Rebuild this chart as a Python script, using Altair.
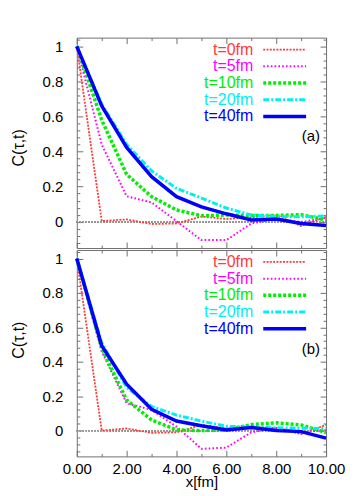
import altair as alt
import pandas as pd

# ---------------- data ----------------
X = [0, 1, 2, 3, 4, 5, 6, 7, 8, 9, 10]
SERIES = ["t=0fm", "t=5fm", "t=10fm", "t=20fm", "t=40fm"]

A_T0 = [1.0, 0.004, 0.013, -0.013, -0.010, 0.030, 0.015, 0.025, 0.038, -0.024, 0.028]
A_T5 = [1.0, 0.44, 0.145, 0.11, 0.003, -0.105, -0.105, -0.010, 0.018, -0.002, 0.022]
A_T10 = [1.0, 0.58, 0.27, 0.143, 0.067, 0.034, 0.038, 0.035, 0.036, 0.040, 0.010]
A_T20 = [1.0, 0.67, 0.44, 0.29, 0.19, 0.135, 0.078, 0.038, 0.030, 0.028, 0.033]
A_T40 = [1.0, 0.66, 0.424, 0.257, 0.143, 0.085, 0.045, 0.010, 0.015, -0.010, -0.022]

B_T0 = [1.0, 0.0, 0.012, -0.013, -0.010, 0.033, 0.014, 0.023, 0.014, -0.020, 0.033]
B_T5 = [1.0, 0.46, 0.159, 0.12, 0.023, -0.106, -0.099, -0.010, 0.015, -0.012, 0.004]
B_T10 = [1.0, 0.478, 0.178, 0.062, 0.004, 0.0, 0.004, 0.035, 0.045, 0.033, -0.012]
B_T20 = [1.0, 0.51, 0.25, 0.14, 0.09, 0.055, 0.025, 0.020, 0.016, 0.014, 0.012]
B_T40 = [1.0, 0.493, 0.27, 0.124, 0.056, 0.028, 0.004, 0.018, 0.0, -0.006, -0.044]

PANEL_A = [A_T0, A_T5, A_T10, A_T20, A_T40]
PANEL_B = [B_T0, B_T5, B_T10, B_T20, B_T40]
PANEL_TAGS = ["(a)", "(b)"]

X_MAJOR = [0, 2, 4, 6, 8, 10]
X_MINOR = [1, 3, 5, 7, 9]
Y_MAJOR = [0, 0.2, 0.4, 0.6, 0.8, 1.0]
Y_MINOR = [-0.12, -0.08, -0.04, 0.04, 0.08, 0.12, 0.16, 0.24, 0.28, 0.32, 0.36,
           0.44, 0.48, 0.52, 0.56, 0.64, 0.68, 0.72, 0.76, 0.84, 0.88, 0.92,
           0.96, 1.04]

# ---------------- styles ----------------
COLORS = ["#ff3c3c", "#ff00ff", "#00ee00", "#00f0f0", "#0000ff"]
DASHES = [[2, 1.3], [1.6, 2.2], [3, 2], [6, 2, 2, 2], None]
WIDTHS = [1.8, 2.0, 3.5, 3.0, 3.5]
FONT = "Liberation Sans"
GRAY = "#707070"
XS = alt.Scale(domain=[0, 10], nice=False, zero=False)
YS = alt.Scale(domain=[-0.15, 1.05], nice=False, zero=False)
LEG_Y = alt.Scale(type="point", domain=SERIES, range=[12, 79], padding=0)


def long_df(curves):
    rows = []
    for s, ys in zip(SERIES, curves):
        for x, y in zip(X, ys):
            rows.append({"series": s, "x": x, "c": y})
    return pd.DataFrame(rows)


def ax(orient, values, size, **kw):
    # inward ticks: negative tick length given through an expression
    args = dict(orient=orient, values=values, tickSize={"expr": str(-size)},
                domain=False, grid=False, tickColor=GRAY, tickWidth=1,
                labels=False, title=None)
    args.update(kw)
    return alt.Axis(**args)


def panel(curves, tag, bottom, h, ytitle_y):
    df = long_df(curves)
    bottom_kw = {}
    if bottom:
        bottom_kw = dict(labels=True, format=".2f", labelPadding=11,
                         labelFontSize=15, labelFont=FONT, labelColor="black",
                         labelOverlap=False, labelFlush=False, labelBound=False,
                         title="x[fm]", titleY=30, titleBaseline="alphabetic",
                         titleFontSize=15, titleFont=FONT,
                         titleFontWeight="normal", titleColor="black")
    xax = [
        ax("bottom", X_MAJOR, 6, **bottom_kw),
        ax("bottom", X_MINOR, 3),
        ax("top", X_MAJOR, 6),
        ax("top", X_MINOR, 3),
        None,
    ]
    yax = [
        ax("left", Y_MAJOR, 6, labels=True, format="~g", labelPadding=20,
           labelFontSize=15, labelFont=FONT, labelColor="black",
           labelOverlap=False, labelFlush=False, labelBound=False,
           title="C(τ,t)", titlePadding=16, titleFontSize=16, titleFont=FONT,
           titleY=ytitle_y, titleFontWeight="normal", titleColor="black"),
        ax("left", Y_MINOR, 3),
        ax("right", Y_MAJOR, 6),
        ax("right", Y_MINOR, 3),
        None,
    ]

    zero = alt.Chart(df).mark_rule(color="#999999", strokeWidth=0.8,
                                   strokeDash=[1, 2]).encode(
        y=alt.Y(datum=0, scale=YS, axis=None))

    layers = [zero]
    for i, s in enumerate(SERIES):
        mk = dict(color=COLORS[i], strokeWidth=WIDTHS[i])
        if DASHES[i]:
            mk["strokeDash"] = DASHES[i]
        layers.append(
            alt.Chart(df).transform_filter(alt.datum.series == s)
            .mark_line(**mk)
            .encode(x=alt.X("x:Q", scale=XS, axis=xax[i]),
                    y=alt.Y("c:Q", scale=YS, axis=yax[i]),
                    order="x:Q"))

    leg = pd.DataFrame({"series": SERIES})
    layers.append(
        alt.Chart(leg).mark_text(align="right", baseline="middle",
                                 font=FONT, fontSize=16).encode(
            y=alt.Y("series:N", scale=LEG_Y, axis=None),
            x=alt.value(177),
            text="series:N",
            color=alt.Color("series:N",
                            scale=alt.Scale(domain=SERIES, range=COLORS),
                            legend=None)))
    for i, s in enumerate(SERIES):
        mk = dict(color=COLORS[i], strokeWidth=WIDTHS[i])
        if DASHES[i]:
            mk["strokeDash"] = DASHES[i]
        layers.append(
            alt.Chart(leg).transform_filter(alt.datum.series == s)
            .mark_rule(**mk)
            .encode(y=alt.Y("series:N", scale=LEG_Y, axis=None),
                    x=alt.value(187), x2=alt.value(230)))

    tagdf = pd.DataFrame({"tag": [tag]})
    layers.append(
        alt.Chart(tagdf).mark_text(align="right", baseline="middle",
                                   font=FONT, fontSize=15, color="black")
        .encode(text="tag:N", x=alt.value(244), y=alt.value(99)))

    return (alt.layer(*layers)
            .resolve_scale(y="independent")
            .resolve_axis(x="independent", y="independent")
            .properties(width=250, height=h))


top = panel(PANEL_A, PANEL_TAGS[0], False, 211, 110)
bot = panel(PANEL_B, PANEL_TAGS[1], True, 207, 90)

chart = (alt.vconcat(top, bot, spacing=0)
         .properties(padding={"left": 1, "top": 28, "right": 0, "bottom": 0})
         .configure_view(stroke=GRAY, strokeWidth=1))

chart.save("out.html", embed_options={"renderer": "svg", "actions": False})
